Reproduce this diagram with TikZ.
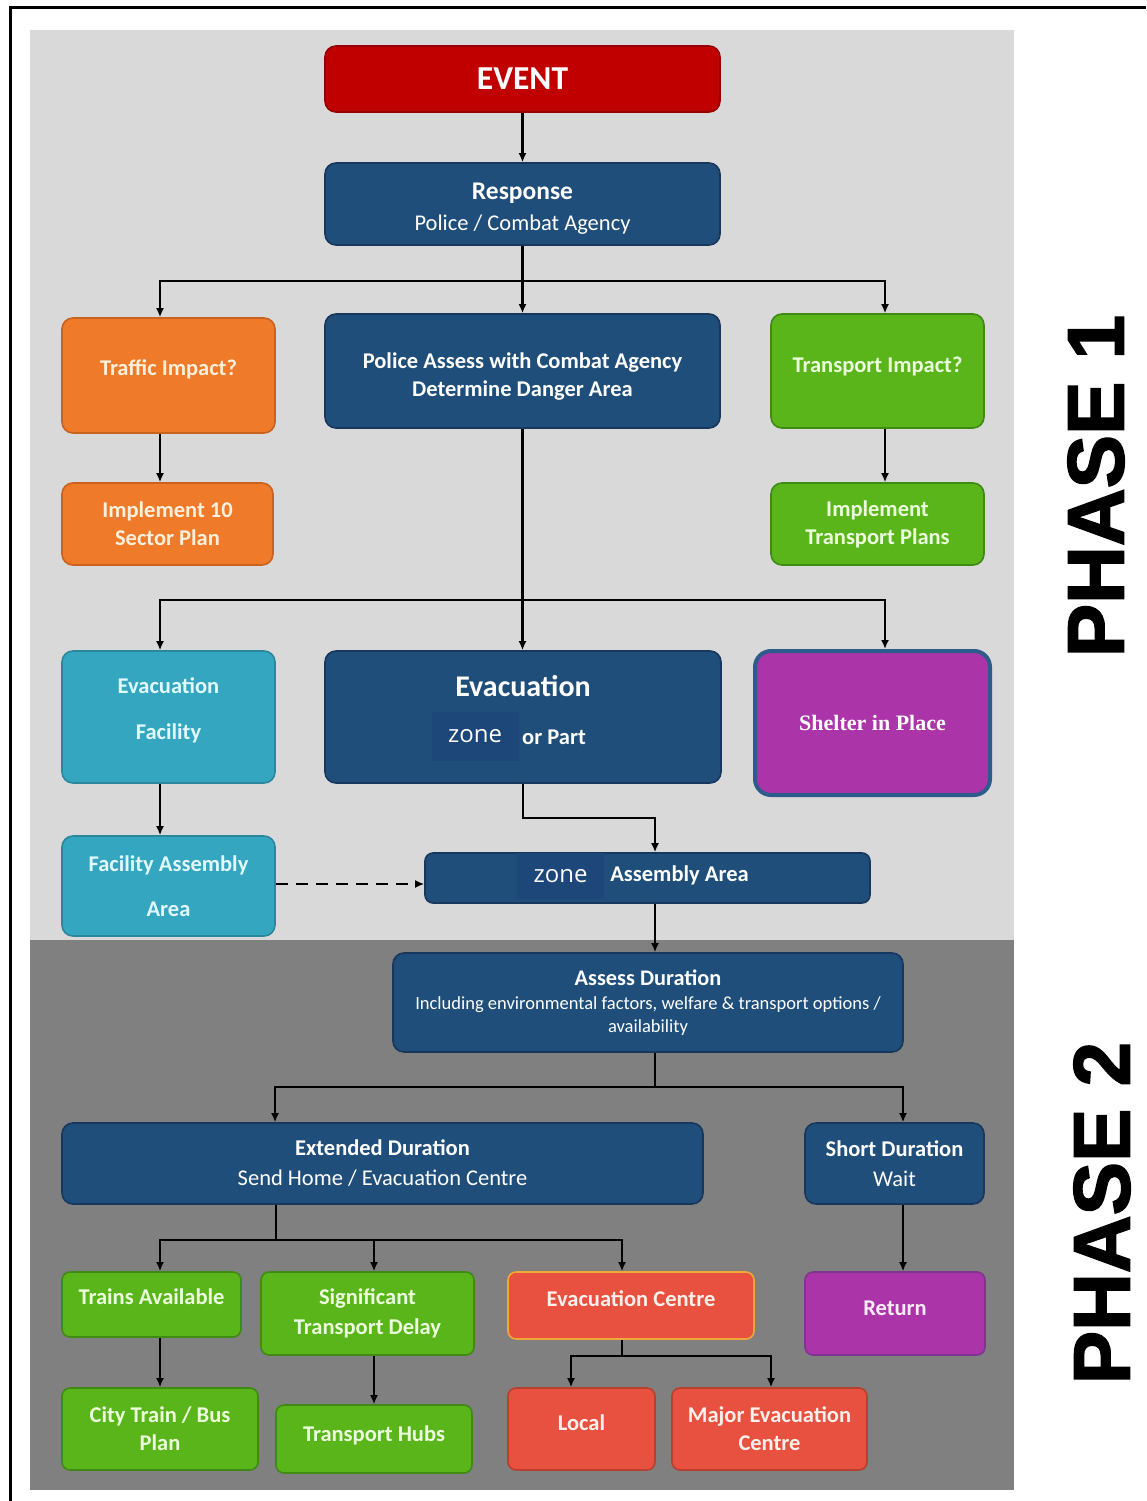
\documentclass[tikz,border=0pt]{standalone}
\usepackage{fontspec}
\setmainfont{Carlito}
\newfontfamily\zonefont{Open Sans}
\newfontfamily\shelterfont{Liberation Serif}
\newfontfamily\phasefont[FakeBold=2]{Liberation Sans}
\usetikzlibrary{arrows.meta}
\definecolor{lightbg}{HTML}{D9D9D9}
\definecolor{darkbg}{HTML}{808080}
\definecolor{eventred}{HTML}{C00000}
\definecolor{navy}{HTML}{1F4E7A}
\definecolor{navyline}{HTML}{17385C}
\definecolor{zoneblue}{HTML}{1D4679}
\definecolor{orangef}{HTML}{EE7A2A}
\definecolor{orangel}{HTML}{C9621E}
\definecolor{greenf}{HTML}{5AB51A}
\definecolor{greenl}{HTML}{3F8A14}
\definecolor{tealf}{HTML}{35A6BF}
\definecolor{teall}{HTML}{2A879C}
\definecolor{purplef}{HTML}{AB35A8}
\definecolor{purplel}{HTML}{7D3590}
\definecolor{shelterl}{HTML}{2E5C8A}
\definecolor{redf}{HTML}{E8503F}
\definecolor{redl}{HTML}{B8402F}
\definecolor{ecl}{HTML}{F0A838}
\tikzset{
  sz/.style 2 args={minimum width=#1pt, minimum height=#2pt},
  fbox/.style={rounded corners=11pt, line width=1.6pt, inner sep=0pt, align=center,
    font=\bfseries\fontsize{22.5}{28}\selectfont},
  bluebox/.style={fbox, fill=navy, draw=navyline, text=white},
  orangebox/.style={fbox, fill=orangef, draw=orangel, text={rgb,255:red,255;green,240;blue,220}},
  greenbox/.style={fbox, fill=greenf, draw=greenl, text={rgb,255:red,235;green,255;blue,220}},
  tealbox/.style={fbox, fill=tealf, draw=teall, text={rgb,255:red,225;green,248;blue,255}},
  redbox/.style={fbox, fill=redf, draw=redl, text={rgb,255:red,255;green,240;blue,235}},
  purplebox/.style={fbox, fill=purplef, draw=purplel, text={rgb,255:red,255;green,235;blue,255}},
  conn/.style={line width=2.4pt, -{Latex[length=9pt,width=8pt]}},
  plain/.style={line width=2.4pt},
  dconn/.style={line width=2.4pt, dash pattern=on 12pt off 8pt, -{Latex[length=9pt,width=8pt]}},
  zonebox/.style={fill=zoneblue, inner sep=0pt, minimum width=87pt, minimum height=46pt,
    text=white, font=\zonefont\fontsize{24}{28}\selectfont},
  wtext/.style={text=white, inner sep=0pt, font=\bfseries\fontsize{22.5}{28}\selectfont},
  phase/.style={rotate=90, inner sep=0pt, font=\phasefont\bfseries\fontsize{80}{80}\selectfont}
}
\begin{document}
\begin{tikzpicture}[x=1pt, y={(0pt,-1pt)}]
\useasboundingbox (0,0) rectangle (1146,1501);
% frame
\draw[line width=3pt] (10,1501) -- (10,8) -- (1146,8);
% backgrounds
\fill[lightbg] (30,30) rectangle (1014,940);
\fill[darkbg] (30,940) rectangle (1014,1490);

% ---------- nodes, phase 1
\node[fbox, fill=eventred, draw={rgb,255:red,150;green,0;blue,0}, text=white, sz={395}{66},
  font=\bfseries\fontsize{33.5}{36}\selectfont] (event) at (522.5,79) {EVENT};
\node[bluebox, sz={395}{82}] (resp) at (522.5,204)
  {\mbox{}\\[-2pt]{\fontsize{25.5}{30}\selectfont Response}\\[3pt]{\mdseries\fontsize{22.5}{26}\selectfont Police / Combat Agency}};
\node[orangebox, sz={213}{115}] (traffic) at (168.5,375.5) {Traffic Impact?\\[-13pt]};
\node[bluebox, sz={395}{114}] (police) at (522.5,371)
  {\mbox{}\\[-2pt]Police Assess with Combat Agency\\Determine Danger Area};
\node[greenbox, sz={213}{114}] (transport) at (877.5,371) {Transport Impact?\\[-16pt]};
\node[orangebox, sz={211}{82}] (impl10) at (167.5,524) {Implement 10\\Sector Plan};
\node[greenbox, sz={213}{82}] (impltr) at (877.5,524) {Implement\\Transport Plans};
\node[tealbox, sz={213}{132}] (evfac) at (168.5,717) {Evacuation\\[18pt]Facility\\[-12pt]};
\node[bluebox, sz={396}{132}] (evac) at (523,717) {};
\node[wtext, font=\bfseries\fontsize{30}{32}\selectfont] (evactitle) at (523,686) {Evacuation};
\node[zonebox, minimum height=49pt] (zone1) at (475,736) {zone};
\node[wtext] (orpart) at (554,737) {or Part};
\node[fbox, rounded corners=16pt, fill=purplef, draw=shelterl, line width=4pt, text=white, sz={235}{144},
  font=\shelterfont\bfseries\fontsize{22}{26}\selectfont] (shelter) at (872.5,723) {Shelter in Place};
\node[tealbox, sz={213}{100}] (facasm) at (168.5,886) {Facility Assembly\\[17pt]Area};
\node[bluebox, rounded corners=8pt, sz={445}{50}] (zoneasm) at (647.5,878) {};
\node[zonebox] (zone2) at (560.5,876) {zone};
\node[wtext] (asmtext) at (679.5,875) {Assembly Area};

% ---------- nodes, phase 2
\node[bluebox, sz={510}{99}] (assess) at (648,1002.5)
  {{\fontsize{22.3}{28}\selectfont Assess Duration}\\[-4pt]
   {\mdseries\fontsize{18.5}{28}\selectfont Including environmental factors, welfare \& transport options /}\\[-5pt]
   {\mdseries\fontsize{18.5}{28}\selectfont availability}};
\node[bluebox, sz={641}{81}] (ext) at (382.5,1163.5)
  {Extended Duration\\[2pt]{\mdseries Send Home / Evacuation Centre}};
\node[bluebox, sz={179}{81}] (short) at (894.5,1163.5)
  {Short Duration\\[2pt]{\mdseries Wait}};
\node[greenbox, rounded corners=8pt, sz={179}{65}] (trains) at (151.5,1304.5) {Trains Available\\[-13pt]};
\node[greenbox, rounded corners=8pt, sz={213}{83}] (sig) at (367.5,1313.5) {Significant\\[2pt]Transport Delay};
\node[redbox, rounded corners=8pt, draw=ecl, sz={246}{67}] (evc) at (631,1305.5) {Evacuation Centre\\[-15pt]};
\node[purplebox, rounded corners=8pt, sz={180}{83}] (ret) at (895,1313.5) {Return\\[-17pt]};
\node[greenbox, rounded corners=8pt, sz={196}{82}] (city) at (160,1429) {City Train / Bus\\Plan};
\node[greenbox, rounded corners=8pt, sz={196}{68}] (hubs) at (374,1439) {Transport Hubs\\[-18pt]};
\node[redbox, rounded corners=8pt, sz={147}{82}] (local) at (581.5,1429) {Local\\[-16pt]};
\node[redbox, rounded corners=8pt, sz={195}{82}] (major) at (769.5,1429) {Major Evacuation\\Centre};

% phase labels
\node[phase] (p1) at (1096,486) {PHASE 1};
\node[phase] (p2) at (1102,1213) {PHASE 2};

% ---------- connectors
\coordinate (b1) at (522.5,281);
\coordinate (b2) at (522.5,600);
\coordinate (b3) at (655,818);
\coordinate (dl) at (0,884);
\coordinate (b4) at (655,1087);
\coordinate (b5) at (276,1240);
\coordinate (b6) at (622,1356);

\draw[conn] (event.south) -- (resp.north);
\draw[plain] (resp.south) -- (b1);
\draw[conn] (b1) -| ([xshift=-8.5pt]traffic.north);
\draw[conn] (b1) -- (police.north);
\draw[conn] (b1) -| ([xshift=7.5pt]transport.north);
\draw[conn] ([xshift=-8.5pt]traffic.south) -- ([xshift=-7.5pt]impl10.north);
\draw[conn] ([xshift=7.5pt]transport.south) -- ([xshift=7.5pt]impltr.north);

\draw[plain] (police.south) -- (b2);
\draw[conn] (b2) -| ([xshift=-8.5pt]evfac.north);
\draw[conn] (b2) -- (b2 |- evac.north);
\draw[conn] (b2) -| ([xshift=12.5pt]shelter.north);
\draw[conn] ([xshift=-8.5pt]evfac.south) -- ([xshift=-8.5pt]facasm.north);
\draw[conn] (evac.south) |- (b3) -- ([xshift=7.5pt]zoneasm.north);
\draw[dconn] (facasm.east |- dl) -- (zoneasm.west |- dl);
\draw[conn] ([xshift=7.5pt]zoneasm.south) -- ([xshift=7pt]assess.north);

\draw[plain] ([xshift=7pt]assess.south) -- (b4);
\draw[conn] (b4) -| ([xshift=-107.5pt]ext.north);
\draw[conn] (b4) -| ([xshift=8.5pt]short.north);
\draw[plain] ([xshift=-106.5pt]ext.south) -- (b5);
\draw[conn] (b5) -| ([xshift=8.5pt]trains.north);
\draw[conn] (b5) -| ([xshift=6.5pt]sig.north);
\draw[conn] (b5) -| ([xshift=-9pt]evc.north);
\draw[conn] ([xshift=8.5pt]short.south) -- ([xshift=8pt]ret.north);
\draw[conn] ([xshift=8.5pt]trains.south) -- (city.north);
\draw[conn] ([xshift=6.5pt]sig.south) -- (hubs.north);
\draw[plain] ([xshift=-9pt]evc.south) -- (b6);
\draw[conn] (b6) -| ([xshift=-10.5pt]local.north);
\draw[conn] (b6) -| ([xshift=1.5pt]major.north);
\end{tikzpicture}
\end{document}
